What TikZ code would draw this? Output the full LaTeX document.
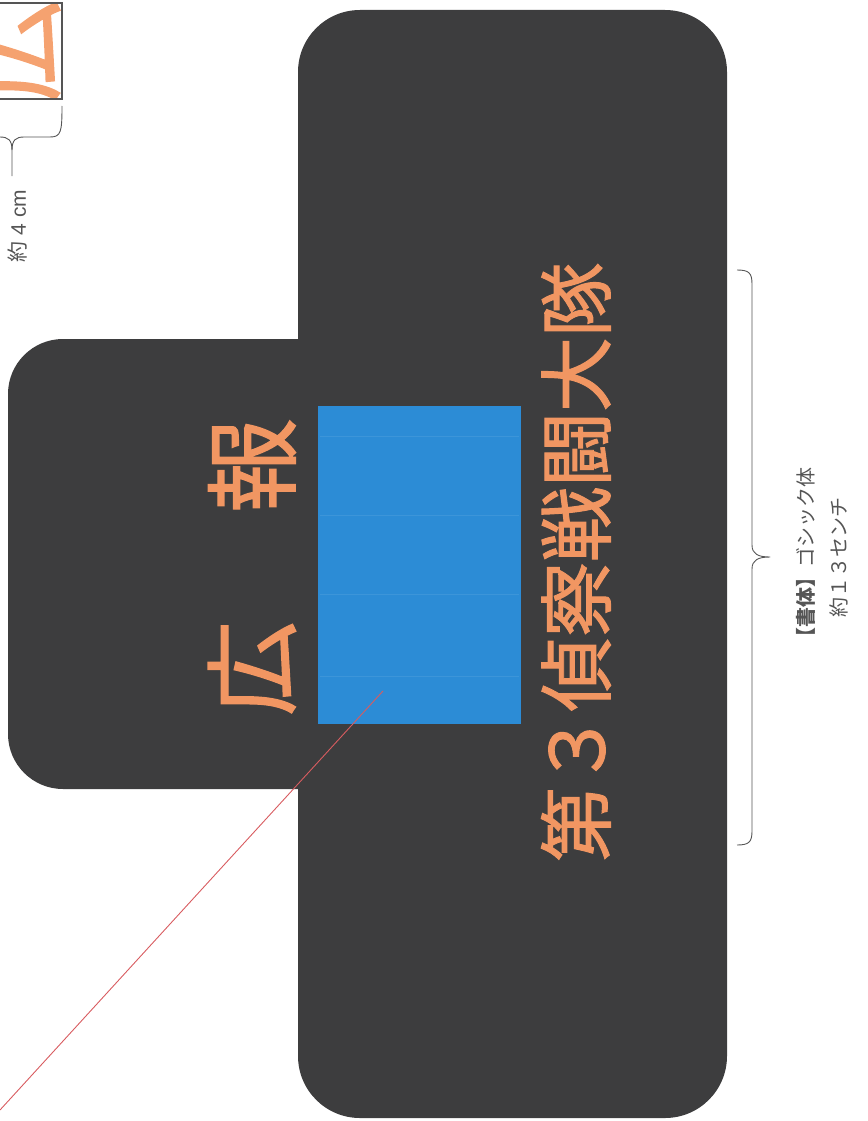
\documentclass[tikz,border=0pt]{standalone}
\usepackage{fontspec}
\newfontfamily\jp{Noto Sans CJK JP}
\newfontfamily\jpm{Noto Sans CJK JP}[FakeBold=1.3]
\newfontfamily\lat{Liberation Sans}
\begin{document}
\begin{tikzpicture}[x=1pt,y=-1pt,
  plate/.style={fill=platec, draw=none},
  orangetext/.style={text=orangec, font=\jpm, inner sep=0pt, rotate=90},
  note/.style={text=notec, font=\jp, inner sep=0pt, rotate=90},
  bracket/.style={draw=notec, line width=0.9pt, line join=round}]
\definecolor{platec}{RGB}{61,61,62}
\definecolor{orangec}{RGB}{241,150,98}
\definecolor{samplec}{RGB}{245,162,112}
\definecolor{photoc}{RGB}{44,140,214}
\definecolor{notec}{RGB}{85,85,85}
\definecolor{redc}{RGB}{216,92,96}
\useasboundingbox (0,0) rectangle (867,1121);
\clip (0,0) rectangle (867,1121);
% plate: tab and main body
\fill[plate, rounded corners=55pt] (8,339) rectangle (420,789);
\fill[plate, rounded corners=62pt] (298,10) rectangle (727,1118);
% blue photo area
\node (photo) [fill=photoc, minimum width=203pt, minimum height=318pt, inner sep=0pt, anchor=north west] at (318,406) {};
\foreach \yy in {436,515,594,676} \draw[white, opacity=0.08, line width=0.6pt] (320,\yy) -- (519,\yy);
% texts on plate
\node[orangetext, font=\jpm\fontsize{95}{95}\selectfont] (koho) at (252,567) {広\hspace{108pt}報};
\node[orangetext, font=\jpm\fontsize{75}{75}\selectfont] (unit) at (576,562) {第３偵察戦闘大隊};
% sample glyph top-left
\begin{scope}
  \clip (-40,3) rectangle (62,99);
  \node[orangetext, text=samplec, font=\jpm\fontsize{104}{104}\selectfont] (sample) at (12,51) {広};
\end{scope}
\draw[notec, line width=1.2pt] (-40,3) rectangle (62,99);
% top-left brace
\draw[bracket] (62,106) .. controls (62,132) and (61,137) .. (50,137) -- (24,137)
  .. controls (16,137) and (12,140) .. (12,150) -- (12,176);
\draw[bracket] (-38,106) .. controls (-38,132) and (-37,137) .. (-26,137) -- (0,137)
  .. controls (8,137) and (12,140) .. (12,150);
\node[note, font=\lat\fontsize{21}{21}\selectfont] (size4) at (18,226) {{\jp 約} 4 cm};
% right brace
\draw[bracket] (737,270) .. controls (749,270) and (752,273) .. (752,284) -- (752,545)
  .. controls (752,554) and (758,557) .. (770,557)
  .. controls (758,557) and (752,560) .. (752,569) -- (752,831)
  .. controls (752,842) and (749,845) .. (737,845);
\node[note, align=center, font=\jp\fontsize{20}{33}\selectfont] (spec) at (822,557)
  {{\bfseries【書体】}ゴシック体\\約１３センチ};
% red leader line
\coordinate (redA) at (383,691);
\coordinate (redB) at (0,1110);
\draw[redc, line width=0.9pt] (redA) -- (redB);
\end{tikzpicture}
\end{document}
